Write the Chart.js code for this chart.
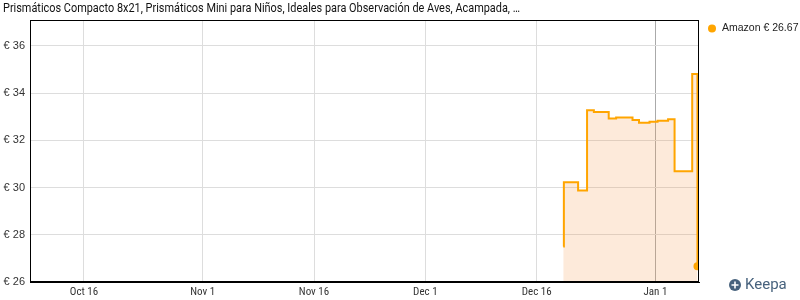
<!DOCTYPE html>
<html>
<head>
<meta charset="utf-8">
<script src="https://cdn.jsdelivr.net/npm/chart.js@4.4.1/dist/chart.umd.min.js"></script>
<style>
  html, body { margin: 0; padding: 0; background: #fff; }
  #wrap { width: 800px; height: 300px; position: relative; }
</style>
</head>
<body>
<div id="wrap"><canvas id="chart"></canvas></div>
<script>
const title = 'Prismáticos Compacto 8x21, Prismáticos Mini para Niños, Ideales para Observación de Aves, Acampada, …';
const seriesName = 'Amazon';
const currentPrice = '€ 26.67';

// price history (UTC), Keepa-style step line
const priceDates = [
    '2024-12-19T14:00', '2024-12-19T16:00', '2024-12-21T14:00', '2024-12-22T19:00',
    '2024-12-23T17:00', '2024-12-25T17:00', '2024-12-26T17:00', '2024-12-28T22:00',
    '2024-12-29T19:00', '2024-12-31T05:00', '2025-01-01T07:00', '2025-01-02T17:00',
    '2025-01-03T14:00', '2025-01-05T23:00', '2025-01-06T16:00'
];
const priceValues = [
    27.50, 30.23, 29.88, 33.28,
    33.20, 32.93, 32.97, 32.86,
    32.75, 32.79, 32.83, 32.89,
    30.69, 34.81, 26.67
];

const xTickDates = ['2024-10-16', '2024-11-01', '2024-11-16', '2024-12-01', '2024-12-16', '2025-01-01'];
const xTickLabels = ['Oct 16', 'Nov 1', 'Nov 16', 'Dec 1', 'Dec 16', 'Jan 1'];
const xRange = ['2024-10-08T17:30', '2025-01-06T21:00'];
const yTicks = [26, 28, 30, 32, 34, 36];
const yRange = [26, 37.1];

function toMs(s) { return Date.parse(s + (s.length > 10 ? ':00Z' : 'T00:00:00Z')); }

const points = priceDates.map(function(d, i) { return { x: toMs(d), y: priceValues[i] }; });
const xTickMs = xTickDates.map(toMs);
const lastIdx = points.length - 1;

// frame, title, legend and logo
const decorations = {
    id: 'decorations',
    afterDraw: function(chart) {
        const ctx = chart.ctx;
        const a = chart.chartArea;
        ctx.save();
        ctx.strokeStyle = '#000';
        ctx.lineWidth = 1;
        ctx.strokeRect(Math.round(a.left) + 0.5, Math.round(a.top) + 0.5,
            Math.round(a.right - a.left) - 1, Math.round(a.bottom - a.top) - 1);

        // title, squeezed like a condensed face
        ctx.font = '13px Roboto, "Liberation Sans", sans-serif';
        ctx.fillStyle = '#111';
        ctx.textBaseline = 'middle';
        const w = ctx.measureText(title).width;
        ctx.save();
        ctx.translate(3, 9);
        ctx.scale(517 / w, 1);
        ctx.fillText(title, 0, 0);
        ctx.restore();

        // legend
        ctx.fillStyle = '#ffa500';
        ctx.beginPath();
        ctx.arc(712, 28.5, 4, 0, Math.PI * 2);
        ctx.fill();
        ctx.fillStyle = '#222';
        ctx.font = '10.5px "Liberation Sans", Arial, sans-serif';
        ctx.textBaseline = 'middle';
        ctx.fillText(seriesName + ' ' + currentPrice, 722, 28.5);

        // Keepa logo
        const blue = '#47627d';
        ctx.fillStyle = blue;
        ctx.beginPath();
        ctx.arc(735, 285, 6, 0, Math.PI * 2);
        ctx.fill();
        ctx.strokeStyle = '#fff';
        ctx.lineWidth = 1.6;
        ctx.beginPath();
        ctx.moveTo(731.5, 285); ctx.lineTo(738.5, 285);
        ctx.moveTo(735, 281.5); ctx.lineTo(735, 288.5);
        ctx.stroke();
        ctx.fillStyle = blue;
        ctx.font = '15px Roboto, "Liberation Sans", sans-serif';
        ctx.textBaseline = 'middle';
        ctx.fillText('Keepa', 745, 285);
        ctx.restore();
    }
};

const data = {
    datasets: [{
        label: seriesName,
        data: points,
        stepped: 'before', // chart.js 'before' = hold value until next point
        borderColor: '#ffa500',
        borderWidth: 2,
        backgroundColor: 'rgba(247, 150, 70, 0.2)',
        fill: 'start',
        pointRadius: function(c) { return c.dataIndex === lastIdx ? 3 : 0; },
        pointBackgroundColor: '#ffa500',
        pointBorderColor: '#ffa500'
    }]
};

const config = {
    type: 'line',
    data: data,
    options: {
        responsive: true,
        maintainAspectRatio: false,
        animation: false,
        layout: { padding: { top: 20, right: 101, left: 0, bottom: 0 } },
        plugins: {
            legend: { display: false },
            title: { display: false },
            tooltip: { enabled: false }
        },
        scales: {
            x: {
                type: 'linear',
                min: toMs(xRange[0]),
                max: toMs(xRange[1]),
                afterBuildTicks: function(scale) {
                    scale.ticks = xTickMs.map(function(v) { return { value: v }; });
                },
                afterFit: function(scale) { scale.height = 18; },
                ticks: {
                    autoSkip: false,
                    maxRotation: 0,
                    padding: 4,
                    color: '#333',
                    font: { family: '"Roboto Condensed", "DejaVu Sans Condensed", "Liberation Sans Narrow", Roboto, sans-serif', size: 11 },
                    callback: function(v) {
                        const i = xTickMs.indexOf(v);
                        return i >= 0 ? xTickLabels[i] : '';
                    }
                },
                grid: {
                    drawTicks: false,
                    color: function(c) {
                        return (c.tick && c.tick.value === xTickMs[5]) ? '#aaaaaa' : '#dddddd';
                    }
                },
                border: { color: '#000' }
            },
            y: {
                min: yRange[0],
                max: yRange[1],
                afterBuildTicks: function(scale) {
                    scale.ticks = yTicks.map(function(v) { return { value: v }; });
                },
                afterFit: function(scale) { scale.width = 30; },
                ticks: {
                    padding: 5,
                    color: '#333',
                    font: { family: '"Liberation Sans", Arial, sans-serif', size: 11 },
                    callback: function(v) { return '€ ' + v; }
                },
                grid: { drawTicks: false, color: '#dddddd' },
                border: { color: '#000' }
            }
        }
    },
    plugins: [decorations]
};

new Chart(document.getElementById('chart'), config);
</script>
</body>
</html>
